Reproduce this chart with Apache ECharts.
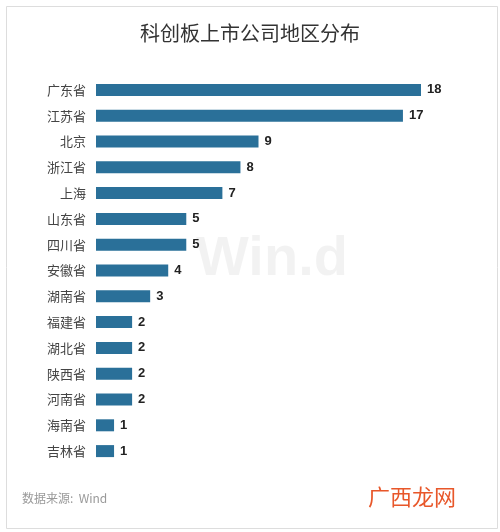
<!DOCTYPE html><html><head><meta charset="utf-8"><script src="https://cdn.jsdelivr.net/npm/echarts@6/dist/echarts.min.js"></script>
<style>body{margin:0}#c{width:500px;height:532px}</style></head><body><div id="c"></div><script>
const categories=["广东省","江苏省","北京","浙江省","上海","山东省","四川省","安徽省","湖南省","福建省","湖北省","陕西省","河南省","海南省","吉林省"];
const values=[18,17,9,8,7,5,5,4,3,2,2,2,2,1,1];
const chart=echarts.init(document.getElementById('c'));
chart.setOption({
 backgroundColor:'#fff',
 title:{text:'科创板上市公司地区分布',left:'center',top:18,textStyle:{fontSize:20,fontWeight:'normal',color:'#333',fontFamily:'Noto Sans CJK SC'}},
 graphic:[
  {type:'rect',left:4,top:4,shape:{width:491,height:522},style:{fill:'none',stroke:'#ddd',lineWidth:1}},
  {type:'text',left:196,top:232,style:{text:'Win.d',fontSize:56,fontWeight:'bold',fill:'rgba(0,0,0,0.05)',fontFamily:'Arial'}},
  {type:'text',left:22,top:492,style:{text:'数据来源:  Wind',fontSize:12,fill:'#999',fontFamily:'Noto Sans CJK SC'}},
  {type:'text',left:368,top:486,style:{text:'广西龙网',fontSize:22,fill:'#e8572a',fontFamily:'Noto Sans CJK SC'}}
 ],
 grid:{left:96,right:79,top:77,bottom:68},
 xAxis:{type:'value',min:0,max:18,show:false},
 yAxis:{type:'category',data:categories,inverse:true,axisLine:{show:false},axisTick:{show:false},axisLabel:{color:'#444',fontSize:13,margin:10,fontFamily:'Noto Sans CJK SC'}},
 series:[{type:'bar',data:values,barWidth:12,itemStyle:{color:'#2a7099'},label:{show:true,position:'right',color:'#222',fontWeight:'bold',fontSize:13,distance:6}}]
});
</script></body></html>
